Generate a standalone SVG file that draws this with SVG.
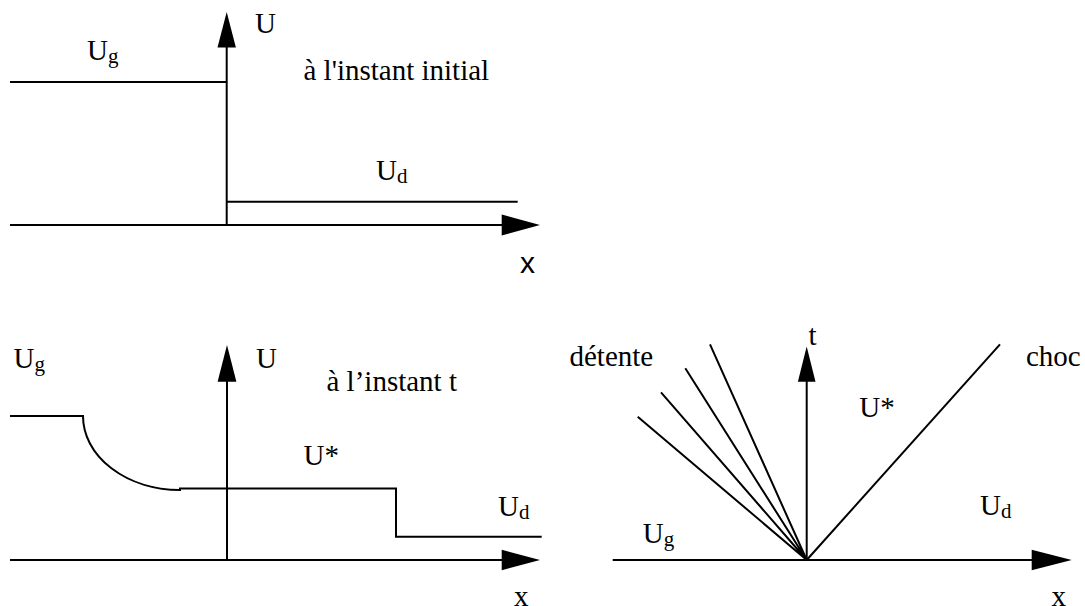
<svg xmlns="http://www.w3.org/2000/svg" width="1085" height="606" viewBox="0 0 1085 606">
<style>
.ln{fill:none;stroke:#000;stroke-width:2}
.ah{fill:#000;stroke:none}
.t{font-family:"Liberation Serif","Times New Roman",serif;font-size:29px;fill:#000}
.sub{font-size:21px}
.sx{font-family:"Liberation Sans",Arial,sans-serif;font-size:30px;fill:#000}
</style>
<rect width="1085" height="606" fill="#fff"/>
<g id="connectors">
  <!-- top panel -->
  <path class="ln" d="M226.7,47 V225"/>
  <polygon class="ah" points="226.7,12 217.5,47.5 235.9,47.5"/>
  <path class="ln" d="M10,225 H502"/>
  <polygon class="ah" points="540,225 501.7,214.5 501.7,235.5"/>
  <path class="ln" d="M10,82 H226.7"/>
  <path class="ln" d="M226.7,201.7 H517.7"/>
  <!-- bottom-left panel -->
  <path class="ln" d="M227,381 V560"/>
  <polygon class="ah" points="227,345 217.6,381.7 236.4,381.7"/>
  <path class="ln" d="M10,560 H502"/>
  <polygon class="ah" points="540,560 501.7,549.7 501.7,570.3"/>
  <path class="ln" d="M10,416 H83 A97,74 0 0 0 180,490 V488.5 H396 V536.7 H541.7"/>
  <!-- bottom-right panel -->
  <path class="ln" d="M806.7,381 V560"/>
  <polygon class="ah" points="806.7,346.5 797.9,381.7 815.5,381.7"/>
  <path class="ln" d="M612.7,560 H1032"/>
  <polygon class="ah" points="1071.7,560 1031.7,549.7 1031.7,570.3"/>
  <path class="ln" d="M806.7,560 L637.7,416.7 M806.7,560 L661,392.3 M806.7,560 L685.3,368.3 M806.7,560 L710,344.3"/>
  <path class="ln" d="M806.7,560 L1000,344.3"/>
</g>
<g id="labels-top">
  <text class="t" x="255" y="33">U</text>
  <text class="t" x="87" y="59.5">U<tspan class="sub" dy="3">g</tspan></text>
  <text class="t" x="303.5" y="80">à l'instant initial</text>
  <text class="t" x="376" y="180">U<tspan class="sub" dy="2.5">d</tspan></text>
  <text class="sx" x="520" y="273">x</text>
</g>
<g id="labels-bottom-left">
  <text class="t" x="13.5" y="367.5">U<tspan class="sub" dy="3">g</tspan></text>
  <text class="t" x="256" y="368">U</text>
  <text class="t" x="326.5" y="390.7">à l’instant t</text>
  <text class="t" x="303.5" y="465">U*</text>
  <text class="t" x="498" y="516.3">U<tspan class="sub" dy="2.5">d</tspan></text>
  <text class="t" x="514" y="606">x</text>
</g>
<g id="labels-bottom-right">
  <text class="t" x="569.5" y="365.5">détente</text>
  <text class="t" x="808.5" y="344.5">t</text>
  <text class="t" x="1026" y="365.5">choc</text>
  <text class="t" x="859.3" y="417.3">U*</text>
  <text class="t" x="980" y="515">U<tspan class="sub" dy="2.5">d</tspan></text>
  <text class="t" x="642.7" y="543">U<tspan class="sub" dy="3">g</tspan></text>
  <text class="t" x="1051.5" y="606">x</text>
</g>
</svg>
